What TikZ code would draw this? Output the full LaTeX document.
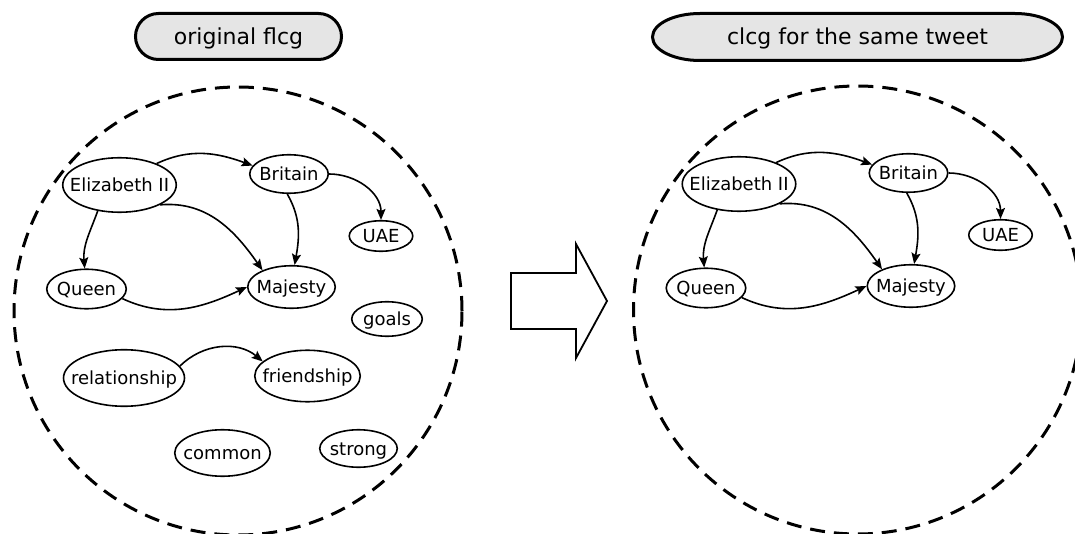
\documentclass[tikz,border=0pt]{standalone}
\usepackage{fontspec}
\setmainfont{DejaVu Sans}
\usetikzlibrary{arrows.meta,shapes.geometric}
\definecolor{titlegray}{RGB}{229,229,229}
% zero-width label so the ellipse keeps its given size
\newcommand\lbl[1]{\makebox[0pt]{#1}}
\tikzset{
  gnode/.style={draw, ellipse, line width=1.6pt, inner sep=0pt,
    text height=14pt, text depth=1pt, font=\fontsize{18}{20}\selectfont},
  link/.style={line width=1.6pt, -{Stealth[length=11pt,width=9pt,inset=2pt]}},
  region/.style={line width=3pt, dash pattern=on 15pt off 9pt},
  titlebox/.style={line width=3pt, fill=titlegray},
  titletext/.style={inner sep=0pt, text height=16pt, text depth=1pt,
    font=\fontsize{22}{26}\selectfont},
}
% the part shared by both graphs
\newcommand\coregraph[1]{%
  \node[gnode, minimum width=113.5pt, minimum height=54.5pt] (#1eliz)  at (119.5,-185) {\lbl{Elizabeth II}};
  \node[gnode, minimum width=78.5pt,  minimum height=38.5pt] (#1brit)  at (289,-174)   {\lbl{Britain}};
  \node[gnode, minimum width=63.5pt,  minimum height=30.5pt] (#1uae)   at (381,-236)   {\lbl{UAE}};
  \node[gnode, minimum width=79.5pt,  minimum height=39.5pt] (#1queen) at (86.5,-289)  {\lbl{Queen}};
  \node[gnode, minimum width=87.5pt,  minimum height=42.5pt] (#1maj)   at (291.5,-287) {\lbl{Majesty}};
  \draw[link] (#1eliz.30)   to[out=25,in=160]  (#1brit.167);
  \draw[link] (#1brit.0)    to[out=0,in=90]    (#1uae.90);
  \draw[link] (#1brit.-95)  to[out=-60,in=80]  (#1maj.82);
  \draw[link] (#1eliz.-26)  to[out=5,in=125]   (#1maj.150);
  \draw[link] (#1eliz.-130) to[out=-110,in=95] (#1queen.95);
  \draw[link] (#1queen.-15) to[out=-25,in=205] (#1maj.180);
}
\begin{document}
\begin{tikzpicture}[x=1pt,y=1pt]
  \useasboundingbox (0,0) rectangle (1075,-534);
  \clip (0,0) rectangle (1075,-534);

  % left: original graph
  \draw[titlebox, rounded corners=23pt] (135.5,-13.5) rectangle (341.5,-59.5);
  \node[titletext] (ltitle) at (238.5,-37) {original flcg};
  \draw[region] (238,-311) circle[radius=224];
  \coregraph{}
  \node[gnode, minimum width=70.5pt,  minimum height=34.5pt] (goals)  at (387,-319)   {\lbl{goals}};
  \node[gnode, minimum width=121pt,   minimum height=56.5pt] (rel)    at (124,-378)   {\lbl{relationship}};
  \node[gnode, minimum width=105.5pt, minimum height=51.5pt] (friend) at (307.5,-376) {\lbl{friendship}};
  \node[gnode, minimum width=95.5pt,  minimum height=46.5pt] (common) at (222.5,-453) {\lbl{common}};
  \node[gnode, minimum width=77.5pt,  minimum height=37.5pt] (strong) at (358.5,-448.5) {\lbl{strong}};
  \draw[link] (rel.12) to[out=45,in=140] (friend.162);

  % block arrow between the two graphs
  \draw[line width=1.8pt, line join=miter]
    (511,-273) -- (576,-273) -- (576,-244) -- (607,-301) -- (576,-358)
    -- (576,-329) -- (511,-329) -- cycle;

  % right: reduced graph
  \draw[titlebox] (700,-13.5) -- (1015,-13.5)
    arc[start angle=90, end angle=-90, x radius=47.5, y radius=23.5]
    -- (700,-60.5)
    arc[start angle=270, end angle=90, x radius=47.5, y radius=23.5] -- cycle;
  \node[titletext] (rtitle) at (857.5,-37) {clcg for the same tweet};
  \draw[region] (857.5,-310) circle[radius=224];
  \begin{scope}[shift={(619.5,1)}]
    \coregraph{r}
  \end{scope}
\end{tikzpicture}
\end{document}
